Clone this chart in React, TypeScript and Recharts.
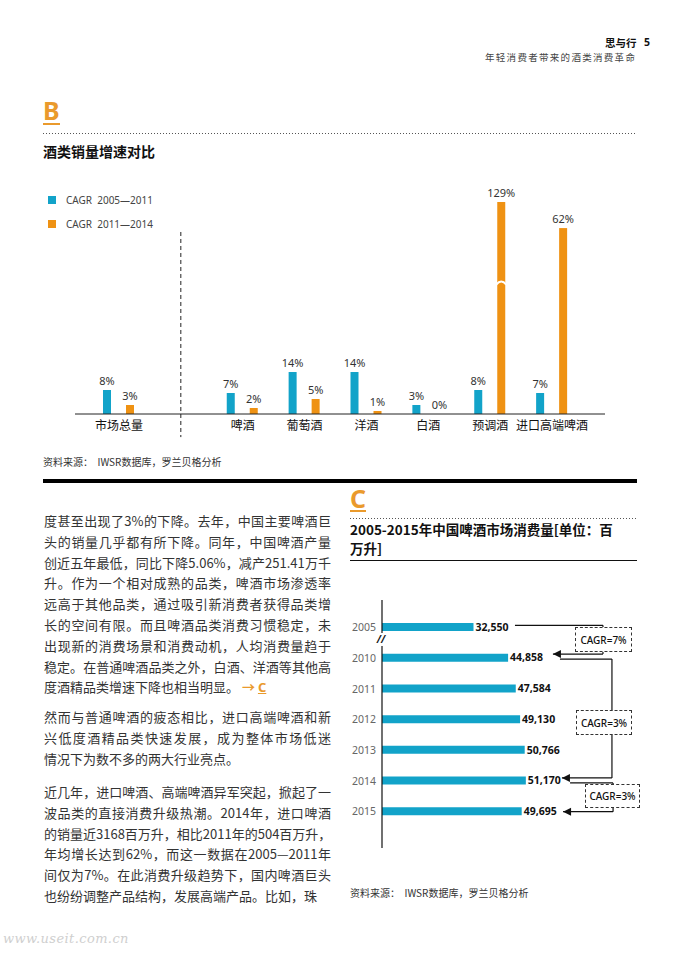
import React from 'react';
import { BarChart, Bar, XAxis, YAxis, LabelList, ReferenceLine } from 'recharts';

const CJK = '"Noto Sans CJK SC", "Noto Sans", sans-serif';
const SANS = '"Noto Sans", "Noto Sans CJK SC", sans-serif';
const BLUE = '#12a3c9';
const ORANGE = '#ef9213';
const LETTER = '#ea9a2c';

// chart B: growth by category
const GAP = 'gap';
const categoriesB = ['市场总量', GAP, '啤酒', '葡萄酒', '洋酒', '白酒', '预调酒', '进口高端啤酒'];
const cagr0511 = [8, null, 7, 14, 14, 3, 8, 7];
const cagr1114 = [3, null, 2, 5, 1, 0, 129, 62];
const seriesNamesB = ['CAGR  2005—2011', 'CAGR  2011—2014'];

// chart C: beer consumption
const yearsC = ['2005', '2010', '2011', '2012', '2013', '2014', '2015'];
const volumeC = [32550, 44858, 47584, 49130, 50766, 51170, 49695];
const cagrLabels = ['CAGR=7%', 'CAGR=3%', 'CAGR=3%'];
const cagrSpans = [['2005', '2010'], ['2010', '2014'], ['2014', '2015']];

const dataB = categoriesB.map((name, i) => ({ name, a: cagr0511[i], b: cagr1114[i] }));
const dataC = yearsC.map((year, i) => ({ year, v: volumeC[i] }));

const PLOT_TOP_B = 22;

function ClampedBar(props: any) {
  const { x, y, width, height, fill } = props;
  if (height == null || !width) return null;
  const bottom = y + height;
  const top = Math.max(y, PLOT_TOP_B);
  const h = bottom - top;
  if (h <= 0) return null;
  const cut = y < PLOT_TOP_B;
  const by = top + h * 0.38;
  return (
    <g>
      <rect x={x} y={top} width={width} height={h} fill={fill} />
      {cut && (
        <path
          d={`M${x - 1},${by + 2} Q${x + width / 2},${by - 4} ${x + width + 1},${by + 2}`}
          stroke="#fff"
          strokeWidth={2}
          fill="none"
        />
      )}
    </g>
  );
}

function TopLabel(props: any) {
  const { value } = props;
  if (value == null) return null;
  const vb = props.viewBox || props;
  const y = Math.max(vb.y, PLOT_TOP_B);
  return (
    <text x={vb.x + vb.width / 2} y={y - 5} textAnchor="middle" fontSize={11} fill="#333" fontFamily={SANS}>
      {value}%
    </text>
  );
}

// connector geometry (value units on the x axis, px offsets on rows)
const bracketGeom = [
  { x0: 47300, xm: 78600, x1: 60800, dy0: -2, dy1: -4 },
  { x0: 63300, xm: 81800, x1: 64000, dy0: 1, dy1: -3 },
  { x0: 66900, xm: 82200, x1: 64400, dy0: 2, dy1: 0 },
];
const boxPos = [
  { left: 575, top: 627, width: 57, height: 25 },
  { left: 576, top: 710, width: 56, height: 25 },
  { left: 585, top: 784, width: 55, height: 24 },
];

const seg = (dy0: number, dy1: number, arrow: boolean) => (p: any) => {
  const ax = p.x1, ay = p.y1 + dy0, bx = p.x2, by = p.y2 + dy1;
  return (
    <g>
      <line x1={ax} y1={ay} x2={bx} y2={by} stroke="#111" strokeWidth={1.2} />
      {arrow && <polygon points={`${bx},${by} ${bx + 8},${by - 4} ${bx + 8},${by + 4}`} fill="#111" />}
    </g>
  );
};

const para1 = [
  '度甚至出现了3%的下降。去年，中国主要啤酒巨',
  '头的销量几乎都有所下降。同年，中国啤酒产量',
  '创近五年最低，同比下降5.06%，减产251.41万千',
  '升。作为一个相对成熟的品类，啤酒市场渗透率',
  '远高于其他品类，通过吸引新消费者获得品类增',
  '长的空间有限。而且啤酒品类消费习惯稳定，未',
  '出现新的消费场景和消费动机，人均消费量趋于',
  '稳定。在普通啤酒品类之外，白酒、洋酒等其他高',
  '度酒精品类增速下降也相当明显。',
];
const para2 = [
  '然而与普通啤酒的疲态相比，进口高端啤酒和新',
  '兴低度酒精品类快速发展，成为整体市场低迷',
  '情况下为数不多的两大行业亮点。',
];
const para3 = [
  '近几年，进口啤酒、高端啤酒异军突起，掀起了一',
  '波品类的直接消费升级热潮。2014年，进口啤酒',
  '的销量近3168百万升，相比2011年的504百万升，',
  '年均增长达到62%，而这一数据在2005—2011年',
  '间仅为7%。在此消费升级趋势下，国内啤酒巨头',
  '也纷纷调整产品结构，发展高端产品。比如，珠',
];

const abs = (left: number, top: number, extra: React.CSSProperties = {}): React.CSSProperties => ({
  position: 'absolute',
  left,
  top,
  ...extra,
});

function Paragraph({ lines, top, tail }: { lines: string[]; top: number; tail?: React.ReactNode }) {
  return (
    <div style={abs(44, top, { width: 287, fontFamily: CJK, fontSize: 13, color: '#333', lineHeight: '20.8px' })}>
      {lines.map((l, i) => {
        const last = i === lines.length - 1;
        return (
          <div key={i} style={{ whiteSpace: 'nowrap', textAlign: 'justify', textAlignLast: last ? 'left' : 'justify', height: 20.8 }}>
            {l}
            {last && tail}
          </div>
        );
      })}
    </div>
  );
}

const dotted = (left: number, top: number, width: number): React.CSSProperties =>
  abs(left, top, {
    width,
    height: 1,
    backgroundImage: 'linear-gradient(to right, #555 1px, transparent 1px)',
    backgroundSize: '3px 1px',
    backgroundRepeat: 'repeat-x',
  });

export default function App() {
  return (
    <div style={{ position: 'absolute', left: 0, top: 0, width: 680, height: 964, background: '#fff', overflow: 'hidden' }}>
      {/* header */}
      <div style={abs(605, 36, { fontFamily: CJK, fontSize: 10.5, fontWeight: 700, lineHeight: '13px', color: '#111' })}>思与行</div>
      <div style={abs(644, 36, { fontFamily: SANS, fontSize: 10.5, fontWeight: 700, lineHeight: '13px', color: '#111' })}>5</div>
      <div style={abs(485, 51, { fontFamily: CJK, fontSize: 9.5, letterSpacing: 1.3, lineHeight: '12px', color: '#444', whiteSpace: 'nowrap' })}>
        年轻消费者带来的酒类消费革命
      </div>

      {/* section B */}
      <div style={abs(43, 98, { fontFamily: SANS, fontSize: 25, fontWeight: 700, lineHeight: '25px', color: LETTER })}>B</div>
      <div style={abs(43, 123, { width: 17, height: 2, background: LETTER })} />
      <div style={dotted(43, 133, 594)} />
      <div style={abs(43, 142, { fontFamily: CJK, fontSize: 14, fontWeight: 700, lineHeight: '18px', color: '#111' })}>酒类销量增速对比</div>

      <div style={abs(44, 180)}>
        <BarChart width={592} height={265} data={dataB} margin={{ top: PLOT_TOP_B, right: 31, bottom: 1, left: 31 }} barSize={8} barGap={15}>
          <XAxis
            dataKey="name"
            interval={0}
            tickFormatter={(v: string) => (v === GAP ? '' : v)}
            tickLine={false}
            tickSize={0}
            tickMargin={7}
            height={30}
            padding={{ left: 13, right: 22 }}
            axisLine={{ stroke: '#222' }}
            tick={{ fill: '#111', fontSize: 12, fontFamily: CJK }}
          />
          <YAxis hide domain={[0, 70.7]} allowDataOverflow />
          <ReferenceLine
            segment={[{ x: GAP, y: 60.7 }, { x: GAP, y: -7.7 }]}
            stroke="#222"
            strokeDasharray="4 3"
            ifOverflow="visible"
          />
          <Bar dataKey="a" name={seriesNamesB[0]} fill={BLUE} shape={<ClampedBar />} isAnimationActive={false}>
            <LabelList dataKey="a" content={<TopLabel />} />
          </Bar>
          <Bar dataKey="b" name={seriesNamesB[1]} fill={ORANGE} shape={<ClampedBar />} isAnimationActive={false}>
            <LabelList dataKey="b" content={<TopLabel />} />
          </Bar>
        </BarChart>
      </div>
      {seriesNamesB.map((n, i) => (
        <React.Fragment key={n}>
          <div style={abs(48, 196 + i * 24, { width: 8, height: 8, background: i === 0 ? BLUE : ORANGE })} />
          <div style={abs(66, 193 + i * 24, { fontFamily: SANS, fontSize: 10, lineHeight: '14px', color: '#444', whiteSpace: 'pre' })}>{n}</div>
        </React.Fragment>
      ))}

      <div style={abs(43, 455, { fontFamily: CJK, fontSize: 10, lineHeight: '14px', color: '#333', whiteSpace: 'pre' })}>
        资料来源：  IWSR数据库，罗兰贝格分析
      </div>
      <div style={abs(43, 479, { width: 594, height: 4, background: '#000' })} />

      {/* body text */}
      <Paragraph
        lines={para1}
        top={511}
        tail={
          <span style={{ color: LETTER, fontWeight: 700 }}>
            {'  → '}
            <span style={{ textDecoration: 'underline', fontFamily: SANS }}>C</span>
          </span>
        }
      />
      <Paragraph lines={para2} top={707} />
      <Paragraph lines={para3} top={782} />

      {/* section C */}
      <div style={abs(350, 486, { fontFamily: SANS, fontSize: 25, fontWeight: 700, lineHeight: '25px', color: LETTER })}>C</div>
      <div style={abs(350, 510, { width: 16, height: 2, background: LETTER })} />
      <div style={dotted(350, 518, 287)} />
      <div style={abs(350, 519.5, { fontFamily: CJK, fontSize: 13.5, fontWeight: 700, lineHeight: '19.6px', color: '#111', whiteSpace: 'nowrap' })}>
        <div>2005-2015年中国啤酒市场消费量[单位：百</div>
        <div>万升]</div>
      </div>
      <div style={abs(350, 560, { width: 287, height: 1, background: '#111' })} />

      <div style={abs(340, 590)}>
        <BarChart layout="vertical" width={300} height={270} data={dataC} margin={{ top: 10, right: 5, bottom: 12, left: 0 }} barSize={8}>
          <XAxis type="number" hide domain={[0, 90000]} />
          <YAxis
            type="category"
            dataKey="year"
            width={42}
            interval={0}
            tickLine={false}
            tickSize={0}
            tickMargin={6}
            padding={{ top: 12, bottom: 21 }}
            axisLine={{ stroke: '#111', strokeWidth: 1.2 }}
            tick={{ fill: '#666', fontSize: 10.5, fontFamily: SANS }}
          />
          <Bar dataKey="v" fill={BLUE} isAnimationActive={false}>
            <LabelList
              dataKey="v"
              position="right"
              offset={2}
              formatter={(v: any) => Number(v).toLocaleString('en-US')}
              fill="#111"
              fontSize={10.5}
              fontWeight={700}
              fontFamily={SANS}
            />
          </Bar>
          {bracketGeom.map((g, i) => {
            const [from, to] = cagrSpans[i];
            return (
              <React.Fragment key={i}>
                <ReferenceLine ifOverflow="visible" segment={[{ x: g.x0, y: from }, { x: g.xm, y: from }]} shape={seg(g.dy0, g.dy0, false)} />
                <ReferenceLine ifOverflow="visible" segment={[{ x: g.xm, y: from }, { x: g.xm, y: to }]} shape={seg(g.dy0, g.dy1, false)} />
                <ReferenceLine ifOverflow="visible" segment={[{ x: g.xm, y: to }, { x: g.x1, y: to }]} shape={seg(g.dy1, g.dy1, true)} />
              </React.Fragment>
            );
          })}
        </BarChart>
      </div>
      <div style={abs(375, 633, { width: 12, height: 13, background: '#fff', fontFamily: SANS, fontSize: 10, fontWeight: 700, fontStyle: 'italic', lineHeight: '13px', textAlign: 'center', color: '#111' })}>
        //
      </div>
      {cagrLabels.map((t, i) => (
        <div
          key={i}
          style={abs(boxPos[i].left, boxPos[i].top, {
            width: boxPos[i].width,
            height: boxPos[i].height,
            boxSizing: 'border-box',
            border: '1px dashed #333',
            background: '#fff',
            fontFamily: SANS,
            fontSize: 10,
            fontWeight: 500,
            color: '#111',
            display: 'flex',
            alignItems: 'center',
            justifyContent: 'center',
          })}
        >
          {t}
        </div>
      ))}

      <div style={abs(350, 886, { fontFamily: CJK, fontSize: 10, lineHeight: '14px', color: '#333', whiteSpace: 'pre' })}>
        资料来源：  IWSR数据库，罗兰贝格分析
      </div>

      <div style={abs(3, 931, { fontFamily: '"DejaVu Serif", serif', fontStyle: 'italic', fontSize: 13, letterSpacing: 0.4, color: '#cfcfcf' })}>
        www.useit.com.cn
      </div>
    </div>
  );
}
